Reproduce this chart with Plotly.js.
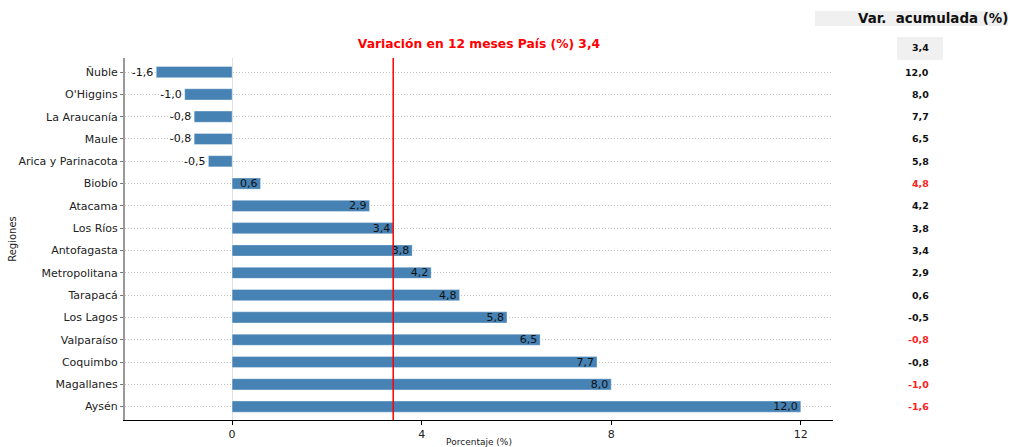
<!DOCTYPE html>
<html>
<head>
<meta charset="utf-8">
<script src="https://cdn.plot.ly/plotly-3.0.1.min.js"></script>
<style>html,body{margin:0;padding:0;background:#fff;}#chart{width:1010px;height:447px;}</style>
</head>
<body>
<div id="chart"></div>
<script>
// Regions, top to bottom
var regions = ["Ñuble","O'Higgins","La Araucanía","Maule","Arica y Parinacota","Biobío","Atacama","Los Ríos","Antofagasta","Metropolitana","Tarapacá","Los Lagos","Valparaíso","Coquimbo","Magallanes","Aysén"];
var variation = [-1.6,-1.0,-0.8,-0.8,-0.5,0.6,2.9,3.4,3.8,4.2,4.8,5.8,6.5,7.7,8.0,12.0];
var countryValue = 3.4;
// Side table "Var. acumulada (%)", top to bottom
var accumValues = [12.0,8.0,7.7,6.5,5.8,4.8,4.2,3.8,3.4,2.9,0.6,-0.5,-0.8,-0.8,-1.0,-1.6];
var accumRed = [false,false,false,false,false,true,false,false,false,false,false,false,true,false,true,true];
var xTicks = [0,4,8,12];

function fmt(v){ return v.toFixed(1).replace('.', ','); }

var n = regions.length;
var yOrder = regions.slice().reverse(); // bottom to top
var textpos = variation.map(function(v){ return v < 0 ? 'outside' : 'inside'; });

var trace = {
  type: 'bar',
  orientation: 'h',
  y: regions,
  x: variation,
  width: 0.5,
  marker: {color: '#4682b4', line: {color: 'rgba(255,255,255,0.35)', width: 1}},
  text: variation.map(fmt),
  textposition: textpos,
  insidetextanchor: 'end',
  textangle: 0,
  constraintext: 'none',
  cliponaxis: false,
  textfont: {family: 'DejaVu Sans', size: 11, color: '#111'},
  insidetextfont: {family: 'DejaVu Sans', size: 11, color: '#111'},
  outsidetextfont: {family: 'DejaVu Sans', size: 11, color: '#111'},
  hoverinfo: 'x+y'
};

var annotations = [];
// side table header
annotations.push({xref:'paper', yref:'paper', x:(933-125)/708, y:1+(58-18)/362, xanchor:'center', yanchor:'middle',
  text:'<b>Var.  acumulada (%)</b>', showarrow:false, font:{family:'DejaVu Sans', size:13.4, color:'#111'}});
annotations.push({xref:'paper', yref:'paper', x:(931-125)/708, y:1+(58-48)/362, xanchor:'right', yanchor:'middle',
  text:'<b>'+fmt(countryValue)+'</b>', showarrow:false, font:{family:'DejaVu Sans', size:9.5, color:'#111'}});
for (var i = 0; i < n; i++) {
  annotations.push({xref:'paper', yref:'y', x:(931-125)/708, y:n-1-i, xanchor:'right', yanchor:'middle',
    text:'<b>'+fmt(accumValues[i])+'</b>', showarrow:false,
    font:{family:'DejaVu Sans', size:9.5, color: accumRed[i] ? '#ff2020' : '#111'}});
}

var shapes = [
  {type:'rect', xref:'paper', yref:'paper', x0:(815-125)/708, x1:(1008-125)/708, y0:1+(58-26)/362, y1:1+(58-11)/362,
   fillcolor:'#f0f0f0', line:{width:0}, layer:'below'},
  {type:'rect', xref:'paper', yref:'paper', x0:(897-125)/708, x1:(943-125)/708, y0:1+(58-60)/362, y1:1+(58-37)/362,
   fillcolor:'#f0f0f0', line:{width:0}, layer:'below'},
  {type:'line', xref:'x', yref:'paper', x0:countryValue, x1:countryValue, y0:0, y1:1,
   line:{color:'#ff0000', width:1.5}, layer:'above'}
];

var layout = {
  width: 1010, height: 447,
  margin: {l:125, r:177, t:58, b:27},
  paper_bgcolor: '#ffffff', plot_bgcolor: '#ffffff',
  showlegend: false,
  title: {text:'<b>Variación en 12 meses País (%) 3,4</b>', x:(479)/1010, xanchor:'center', y:1-44/447, yanchor:'middle',
          font:{family:'DejaVu Sans', size:12.3, color:'#ff0000'}},
  xaxis: {
    range: [-2.26, 12.68],
    tickvals: xTicks, ticktext: xTicks.map(String),
    showgrid: false,
    zeroline: true, zerolinecolor: '#e0e0e0', zerolinewidth: 1,
    showline: true, linecolor: '#000', linewidth: 1,
    ticks: 'outside', ticklen: 4, tickcolor: '#000',
    tickfont: {family:'DejaVu Sans', size:11, color:'#222'},
    title: {text:'Porcentaje (%)', font:{family:'DejaVu Sans', size:9, color:'#222'}, standoff: 2},
    fixedrange: true
  },
  yaxis: {
    type: 'category',
    categoryorder: 'array', categoryarray: yOrder,
    range: [-0.6, 15.63],
    showgrid: true, gridcolor: '#c4c4c4', griddash: '1px,2px', gridwidth: 1,
    showline: true, linecolor: '#999', linewidth: 2,
    ticks: 'outside', ticklen: 3, tickcolor: '#777',
    tickfont: {family:'DejaVu Sans', size:11, color:'#222'},
    title: {text:'Regiones', font:{family:'DejaVu Sans', size:10, color:'#222'}, standoff: 0},
    fixedrange: true
  },
  shapes: shapes,
  annotations: annotations,
  bargap: 0.5
};

Plotly.newPlot('chart', [trace], layout, {displayModeBar:false, staticPlot:true});
</script>
</body>
</html>
